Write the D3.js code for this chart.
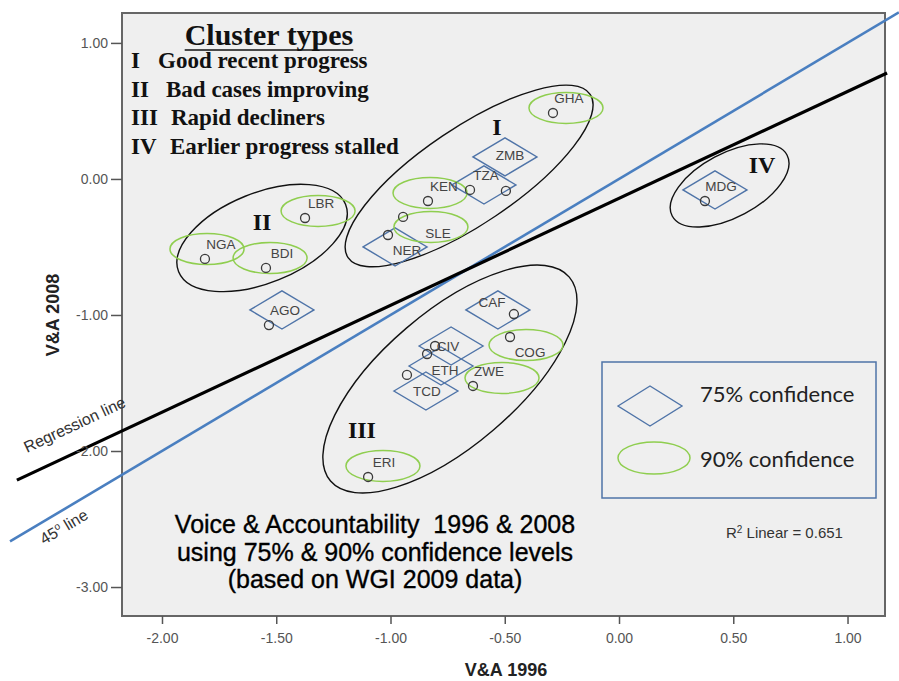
<!DOCTYPE html>
<html>
<head>
<meta charset="utf-8">
<script src="https://cdn.jsdelivr.net/npm/d3@7"></script>
<style>
body { margin: 0; background: #fff; }
svg { display: block; }
</style>
</head>
<body>
<svg id="chart"></svg>
<script>
// countries, V&A score 1996 (x) and 2008 (y)
var countries = ["GHA", "ZMB", "TZA", "KEN", "SLE", "NER", "LBR", "NGA", "BDI", "AGO", "CAF", "COG", "CIV", "ETH", "TCD", "ZWE", "ERI", "MDG"];
var va1996 = [-0.289, -0.495, -0.652, -0.836, -0.945, -1.011, -1.374, -1.812, -1.545, -1.532, -0.460, -0.477, -0.805, -0.840, -0.928, -0.639, -1.098, 0.376];
var va2008 = [0.485, -0.088, -0.081, -0.162, -0.279, -0.412, -0.287, -0.588, -0.654, -1.074, -0.993, -1.162, -1.228, -1.287, -1.441, -1.522, -2.191, -0.162];
// confidence level drawn for each country and centre of that region
var confLevel = [90, 75, 75, 90, 90, 75, 90, 90, 90, 75, 75, 90, 75, 75, 75, 90, 90, 75];
var confX = [-0.232, -0.499, -0.591, -0.827, -0.823, -0.980, -1.317, -1.803, -1.527, -1.475, -0.530, -0.407, -0.735, -0.779, -0.845, -0.512, -1.033, 0.420];
var confY = [0.522, 0.162, -0.044, -0.103, -0.353, -0.500, -0.235, -0.515, -0.581, -0.963, -0.963, -1.221, -1.228, -1.375, -1.559, -1.463, -2.110, -0.081];
var halfWidth75 = [0.14, 0.14];
var halfWidth90 = [0.162, 0.114];

// clusters
var clusterIds = ["I", "II", "III", "IV"];
var clusterNames = ["Good recent progress", "Bad cases improving", "Rapid decliners", "Earlier progress stalled"];
var clusterCx = [-0.656, -1.562, -0.740, 0.484];
var clusterCy = [0.022, -0.434, -1.471, -0.048];
var clusterTagX = [-0.534, -1.562, -1.125, 0.626];
var clusterTagY = [0.382, -0.316, -1.846, 0.103];

// fitted line and 45 degree line
var regIntercept = -0.143;
var regSlope = 0.786;
var rSquared = 0.651;
var regRange = [-2.635, 1.173];
var diagRange = [-2.665, 1.225];

var xTicks = [-2, -1.5, -1, -0.5, 0, 0.5, 1];
var yTicks = [1, 0, -1, -2, -3];
var titleLines = ["Voice & Accountability  1996 & 2008", "using 75% & 90% confidence levels", "(based on WGI 2009 data)"];

var width = 899;
var height = 681;
var margin = {
	left: 122,
	right: 14,
	top: 13,
	bottom: 65
};

var sans = "'Liberation Sans', Arial, sans-serif";
var serif = "'Liberation Serif', 'Times New Roman', serif";

var svg = d3.select("#chart")
	.attr("width", width)
	.attr("height", height)
	.style("background", "#fff");

var xScale = d3.scaleLinear()
	.domain([-2.175, 1.164])
	.range([margin.left, width - margin.right]);
var yScale = d3.scaleLinear()
	.domain([-3.213, 1.22])
	.range([height - margin.bottom, margin.top]);

var plotW = xScale.range()[1] - xScale.range()[0];
var plotH = yScale.range()[0] - yScale.range()[1];

svg.append("rect")
	.attr("x", margin.left)
	.attr("y", margin.top)
	.attr("width", plotW)
	.attr("height", plotH)
	.attr("fill", "#efefef");

// cluster ellipses (radii in px, rotation in degrees)
var clusterShape = {
	I: { a: 146, b: 48, rot: -34 },
	II: { a: 90, b: 45, rot: -22 },
	III: { a: 157, b: 67, rot: -40.5 },
	IV: { a: 65, b: 32, rot: -28 }
};
svg.selectAll(".cluster")
	.data(clusterIds)
	.enter()
	.append("ellipse")
	.classed("cluster", true)
	.attr("transform", function (d, i) {
		return "translate(" + xScale(clusterCx[i]) + "," + yScale(clusterCy[i]) + ") rotate(" + clusterShape[d].rot + ")";
	})
	.attr("rx", function (d) { return clusterShape[d].a; })
	.attr("ry", function (d) { return clusterShape[d].b; })
	.attr("fill", "none")
	.attr("stroke", "#111")
	.attr("stroke-width", 1.4);

svg.selectAll(".ctag")
	.data(clusterIds)
	.enter()
	.append("text")
	.classed("ctag", true)
	.attr("x", function (d, i) { return xScale(clusterTagX[i]); })
	.attr("y", function (d, i) { return yScale(clusterTagY[i]); })
	.attr("dy", "0.34em")
	.attr("text-anchor", "middle")
	.style("font-family", serif)
	.style("font-weight", "bold")
	.style("font-size", "24px")
	.attr("fill", "#111")
	.text(function (d) { return d; });

// confidence regions
var idx = d3.range(countries.length);
var kx = xScale(halfWidth75[0]) - xScale(0);
var ky = yScale(0) - yScale(halfWidth75[1]);
svg.selectAll(".c75")
	.data(idx.filter(function (i) { return confLevel[i] === 75; }))
	.enter()
	.append("path")
	.classed("c75", true)
	.attr("d", function (i) {
		var cx = xScale(confX[i]), cy = yScale(confY[i]);
		return "M" + (cx - kx) + "," + cy + "L" + cx + "," + (cy - ky) + "L" + (cx + kx) + "," + cy + "L" + cx + "," + (cy + ky) + "Z";
	})
	.attr("fill", "none")
	.attr("stroke", "#4f74a8")
	.attr("stroke-width", 1.4);

svg.selectAll(".c90")
	.data(idx.filter(function (i) { return confLevel[i] === 90; }))
	.enter()
	.append("ellipse")
	.classed("c90", true)
	.attr("cx", function (i) { return xScale(confX[i]); })
	.attr("cy", function (i) { return yScale(confY[i]); })
	.attr("rx", xScale(halfWidth90[0]) - xScale(0))
	.attr("ry", yScale(0) - yScale(halfWidth90[1]))
	.attr("fill", "none")
	.attr("stroke", "#8fce4f")
	.attr("stroke-width", 1.5);

// points and labels
svg.selectAll(".pt")
	.data(idx)
	.enter()
	.append("circle")
	.classed("pt", true)
	.attr("cx", function (i) { return xScale(va1996[i]); })
	.attr("cy", function (i) { return yScale(va2008[i]); })
	.attr("r", 4.5)
	.attr("fill", "none")
	.attr("stroke", "#3a3a3a")
	.attr("stroke-width", 1.3);

var nudge = {
	SLE: [35, 16], NER: [19, 15], ZMB: [4, -36], CAF: [-22, -12], COG: [20, 15],
	CIV: [13, 0], ETH: [18, 16], TCD: [20, 16]
};
svg.selectAll(".lbl")
	.data(idx)
	.enter()
	.append("text")
	.classed("lbl", true)
	.attr("x", function (i) { return xScale(va1996[i]) + (nudge[countries[i]] || [16, -15])[0]; })
	.attr("y", function (i) { return yScale(va2008[i]) + (nudge[countries[i]] || [16, -15])[1]; })
	.attr("dy", "0.36em")
	.attr("text-anchor", "middle")
	.style("font-family", sans)
	.style("font-size", "13.5px")
	.attr("fill", "#444")
	.text(function (i) { return countries[i]; });

// frame
svg.append("rect")
	.attr("x", margin.left)
	.attr("y", margin.top)
	.attr("width", plotW)
	.attr("height", plotH)
	.attr("fill", "none")
	.attr("stroke", "#666")
	.attr("stroke-width", 2);

// lines
var line = d3.line()
	.x(function (d) { return xScale(d[0]); })
	.y(function (d) { return yScale(d[1]); });
svg.append("path")
	.datum(diagRange.map(function (v) { return [v, v]; }))
	.attr("d", line)
	.attr("fill", "none")
	.attr("stroke", "#4a7fc0")
	.attr("stroke-width", 2.6);
svg.append("path")
	.datum(regRange.map(function (v) { return [v, regIntercept + regSlope * v]; }))
	.attr("d", line)
	.attr("fill", "none")
	.attr("stroke", "#000")
	.attr("stroke-width", 3.2);

// axes
var fmt = function (d) { return d.toFixed(2); };
var xAxis = d3.axisBottom(xScale).tickValues(xTicks).tickFormat(fmt).tickSize(8).tickPadding(9);
var yAxis = d3.axisLeft(yScale).tickValues(yTicks).tickFormat(fmt).tickSize(11).tickPadding(3);
var gx = svg.append("g")
	.attr("transform", "translate(0," + yScale.range()[0] + ")")
	.call(xAxis);
var gy = svg.append("g")
	.attr("transform", "translate(" + margin.left + ",0)")
	.call(yAxis);
[gx, gy].forEach(function (g) {
	g.select(".domain").remove();
	g.selectAll("line").attr("stroke", "#555").attr("stroke-width", 1.5);
	g.selectAll("text")
		.style("font-family", sans)
		.style("font-size", "14px")
		.attr("fill", "#555");
});

svg.append("text")
	.attr("transform", "translate(53,315) rotate(-90)")
	.attr("dy", "0.35em")
	.attr("text-anchor", "middle")
	.style("font-family", sans)
	.style("font-weight", "bold")
	.style("font-size", "18px")
	.attr("fill", "#222")
	.text("V&A 2008");
svg.append("text")
	.attr("x", 506)
	.attr("y", 676)
	.attr("text-anchor", "middle")
	.style("font-family", sans)
	.style("font-weight", "bold")
	.style("font-size", "18px")
	.attr("fill", "#222")
	.text("V&A 1996");

// line labels
var regAngle = -Math.atan(regSlope * (yScale(0) - yScale(1)) / (xScale(1) - xScale(0))) * 180 / Math.PI;
var diagAngle = -Math.atan((yScale(0) - yScale(1)) / (xScale(1) - xScale(0))) * 180 / Math.PI;
svg.append("text")
	.attr("transform", "translate(27,453) rotate(" + regAngle + ")")
	.style("font-family", sans)
	.style("font-size", "16px")
	.attr("fill", "#333")
	.text("Regression line");
var t45 = svg.append("text")
	.attr("transform", "translate(44,545) rotate(" + diagAngle + ")")
	.style("font-family", sans)
	.style("font-size", "16px")
	.attr("fill", "#333");
t45.append("tspan").text("45");
t45.append("tspan").attr("dy", -6).style("font-size", "10px").text("o");
t45.append("tspan").attr("dy", 6).text(" line");

// R squared
var r2 = svg.append("text")
	.attr("x", 726)
	.attr("y", 538)
	.style("font-family", sans)
	.style("font-size", "15px")
	.attr("fill", "#333");
r2.append("tspan").text("R");
r2.append("tspan").attr("dy", -5).style("font-size", "10px").text("2");
r2.append("tspan").attr("dy", 5).text(" Linear = " + rSquared.toFixed(3));

// title block
svg.selectAll(".title")
	.data(titleLines)
	.enter()
	.append("text")
	.classed("title", true)
	.attr("x", 375)
	.attr("y", function (d, i) { return 533 + i * 27.5; })
	.attr("text-anchor", "middle")
	.style("font-family", sans)
	.style("font-size", "25px")
	.style("white-space", "pre")
	.attr("fill", "#000")
	.attr("stroke", "#000")
	.attr("stroke-width", 0.35)
	.text(function (d) { return d; });

// cluster legend
var head = svg.append("text")
	.attr("x", 269)
	.attr("y", 45)
	.attr("text-anchor", "middle")
	.style("font-family", serif)
	.style("font-weight", "bold")
	.style("font-size", "30px")
	.attr("fill", "#111")
	.text("Cluster types");
var hb = head.node().getBBox();
svg.append("line")
	.attr("x1", hb.x)
	.attr("x2", hb.x + hb.width)
	.attr("y1", 50)
	.attr("y2", 50)
	.attr("stroke", "#111")
	.attr("stroke-width", 1.6);
var nameX = [158, 166, 171, 170];
clusterIds.forEach(function (id, i) {
	svg.append("text")
		.attr("x", 131)
		.attr("y", 68 + i * 28.7)
		.style("font-family", serif)
		.style("font-weight", "bold")
		.style("font-size", "23px")
		.attr("fill", "#111")
		.text(id);
	svg.append("text")
		.attr("x", nameX[i])
		.attr("y", 68 + i * 28.7)
		.style("font-family", serif)
		.style("font-weight", "bold")
		.style("font-size", "23px")
		.attr("fill", "#111")
		.text(clusterNames[i]);
});

// confidence legend
var lg = svg.append("g");
lg.append("rect")
	.attr("x", 602)
	.attr("y", 362)
	.attr("width", 274)
	.attr("height", 136)
	.attr("fill", "none")
	.attr("stroke", "#4f74a8")
	.attr("stroke-width", 1.5);
lg.append("path")
	.attr("d", "M618,406L650,386L682,406L650,426Z")
	.attr("fill", "none")
	.attr("stroke", "#4f74a8")
	.attr("stroke-width", 1.4);
lg.append("ellipse")
	.attr("cx", 654)
	.attr("cy", 458)
	.attr("rx", 36)
	.attr("ry", 16)
	.attr("fill", "none")
	.attr("stroke", "#8fce4f")
	.attr("stroke-width", 1.5);
["75% confidence", "90% confidence"].forEach(function (t, i) {
	lg.append("text")
		.attr("x", 700)
		.attr("y", 402 + i * 65)
		.style("font-family", "Lato, 'Liberation Sans', sans-serif")
		.style("font-size", "22px")
		.attr("fill", "#222")
		.text(t);
});
</script>
</body>
</html>
